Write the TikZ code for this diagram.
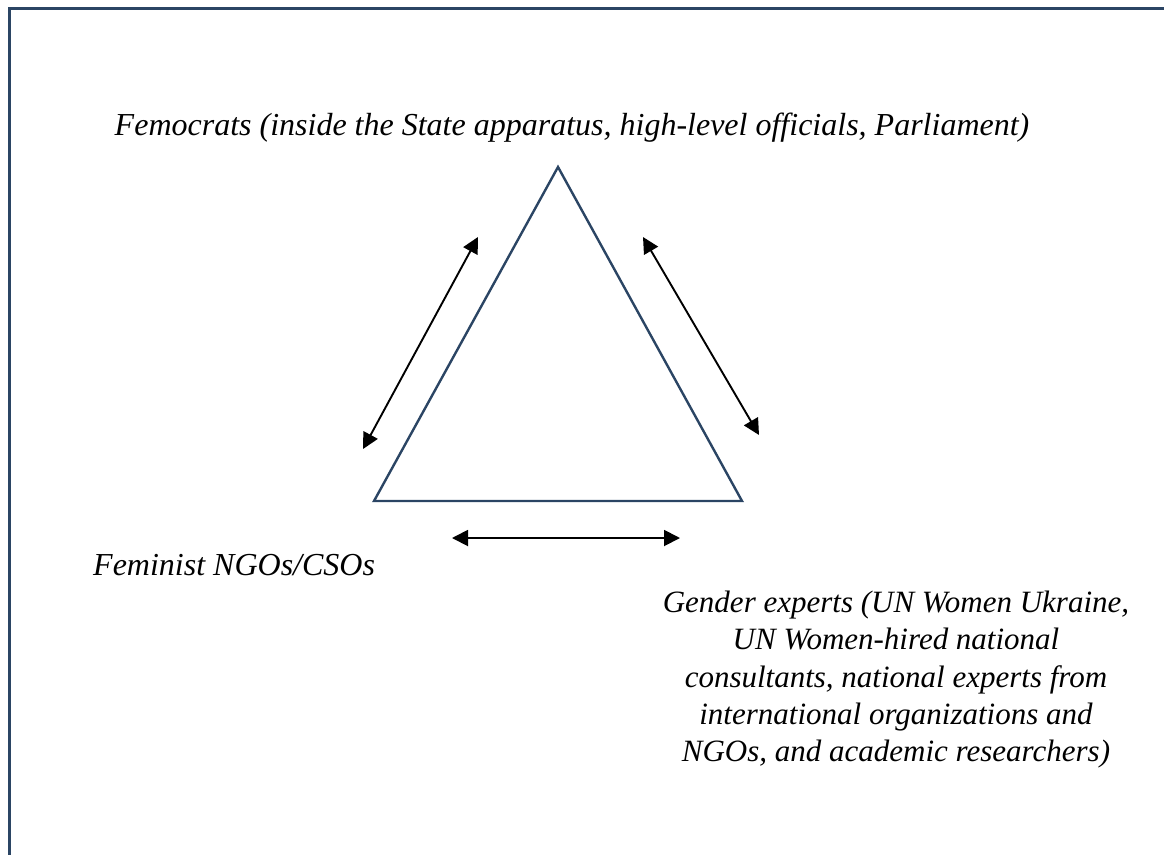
\documentclass[tikz,border=0pt]{standalone}
\usepackage{fontspec}
\setmainfont{Liberation Serif}
\usetikzlibrary{arrows.meta}
\definecolor{navy}{HTML}{2B4564}
\tikzset{
  frameline/.style={draw=navy, line width=3pt},
  tri/.style={draw=navy, line width=2.4pt, line join=miter},
  dblarrow/.style={draw=black, line width=1.9pt, {Triangle[length=16pt,width=16pt]}-{Triangle[length=16pt,width=16pt]}},
  lbl/.style={font=\fontsize{32}{37.25}\selectfont\itshape, inner sep=0pt, text=black},
  lblsmall/.style={font=\fontsize{31}{37.25}\selectfont\itshape, inner sep=0pt, text=black}
}
\begin{document}
\begin{tikzpicture}[x=1pt,y=-1pt]
\useasboundingbox (0,0) rectangle (1164,854);
% frame (cut at right and bottom)
\coordinate (fbl) at (9.5,860);
\coordinate (ftl) at (9.5,8.5);
\coordinate (ftr) at (1170,8.5);
\draw[frameline] (fbl) -- (ftl) -- (ftr);
% triangle
\coordinate (apex) at (558,167);
\coordinate (bl) at (374,501);
\coordinate (br) at (742,501);
\draw[tri] (apex) -- (bl) -- (br) -- cycle;
% arrows
\coordinate (la) at (478,237);
\coordinate (lb) at (363,449);
\coordinate (ra) at (643,237);
\coordinate (rb) at (759,435);
\coordinate (ba) at (452,538);
\coordinate (bb) at (680,538);
\draw[dblarrow] (la) -- (lb);
\draw[dblarrow] (ra) -- (rb);
\draw[dblarrow] (ba) -- (bb);
% labels
\node[lbl, anchor=base] (fem) at (572,135) {Femocrats (inside the State apparatus, high-level officials, Parliament)};
\node[lbl, anchor=base west] (ngo) at (93,575) {Feminist NGOs/CSOs};
\node[lblsmall, anchor=north, align=center] (exp) at (896,591) {Gender experts (UN Women Ukraine,\\UN Women-hired national\\consultants, national experts from\\international organizations and\\NGOs, and academic researchers)};
\end{tikzpicture}
\end{document}
